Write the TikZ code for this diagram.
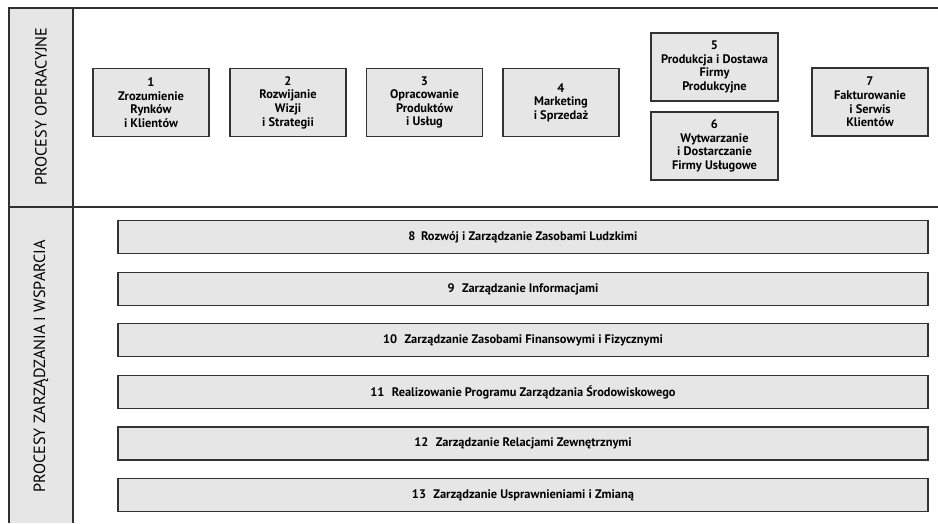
\documentclass[tikz,border=0pt]{standalone}
\usepackage{fontspec}
\setmainfont{PT Sans}
\definecolor{boxfill}{HTML}{E6E6E6}
\definecolor{boxline}{HTML}{333333}
\definecolor{frameline}{HTML}{303030}
\begin{document}
\begin{tikzpicture}[x=1pt,y=-1pt,
  frame/.style={draw=frameline, line width=2pt},
  proc/.style={draw=boxline, fill=boxfill, line width=1.3pt, align=center,
    font=\bfseries\fontsize{12.4}{13.6}\selectfont, inner sep=0pt,
    minimum width=116pt, minimum height=68pt},
  bar/.style={draw=boxline, fill=boxfill, line width=1.3pt,
    font=\bfseries\fontsize{12.4}{13.6}\selectfont, inner sep=0pt,
    minimum width=810pt, minimum height=33pt},
  side/.style={rotate=90, font=\fontsize{16.2}{19}\selectfont, inner sep=0pt}]
\useasboundingbox (0,0) rectangle (938,523);

% side column and frame
\fill[boxfill] (9,8) rectangle (73,523);
\draw[frame] (938,8) -- (9,8) -- (9,523);
\draw[frame] (73,8) -- (73,523);
\draw[frame] (9,207) -- (938,207);

\node[side] (opl) at (41,106.5) {PROCESY OPERACYJNE};
\node[side] (supl) at (41,366.5) {PROCESY ZARZĄDZANIA I WSPARCIA};

% operational processes
\node[proc] (p1) at (151,102.5) {1\\Zrozumienie\\Rynków\\i Klientów};
\node[proc] (p2) at (288,102.5) {2\\Rozwijanie\\Wizji\\i Strategii};
\node[proc] (p3) at (424.5,102.5) {3\\Opracowanie\\Produktów\\i Usług};
\node[proc] (p4) at (561,102.5) {4\\Marketing\\i Sprzedaż};
\node[proc, minimum width=127pt] (p5) at (714.5,67) {5\\Produkcja i Dostawa\\Firmy\\Produkcyjne};
\node[proc, minimum width=127pt] (p6) at (714.5,146) {6\\Wytwarzanie\\i Dostarczanie\\Firmy Usługowe};
\node[proc] (p7) at (870,102) {7\\Fakturowanie\\i Serwis\\Klientów};

% management and support processes
\node[bar] (s8) at (523,237) {8\hspace{0.45em}Rozwój i Zarządzanie Zasobami Ludzkimi};
\node[bar] (s9) at (523,289) {9\hspace{0.6em}Zarządzanie Informacjami};
\node[bar] (s10) at (523,340) {10\hspace{0.6em}Zarządzanie Zasobami Finansowymi i Fizycznymi};
\node[bar] (s11) at (523,392) {11\hspace{0.6em}Realizowanie Programu Zarządzania Środowiskowego};
\node[bar] (s12) at (523,443.5) {12\hspace{0.6em}Zarządzanie Relacjami Zewnętrznymi};
\node[bar] (s13) at (523,495) {13\hspace{0.6em}Zarządzanie Usprawnieniami i Zmianą};
\end{tikzpicture}
\end{document}
